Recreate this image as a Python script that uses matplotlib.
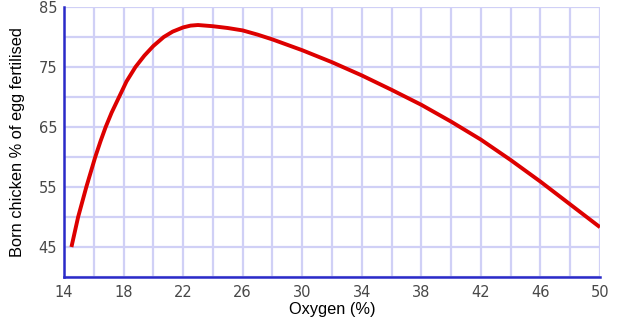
import numpy as np
import matplotlib.pyplot as plt

plt.rcParams['font.family'] = ['Liberation Sans', 'DejaVu Sans']

# hatch rate readings against oxygen level
oxygen = [14.5, 14.95, 15.5, 16.1, 16.45, 16.8, 17.2, 17.7, 18.2, 18.8, 19.4,
          20, 20.7, 21.3, 22, 22.5, 23, 24, 25, 26, 27, 28, 30, 32, 34, 36, 38,
          40, 42, 44, 46, 48, 50]
hatched = [45, 50, 55, 60, 62.6, 65, 67.4, 70, 72.6, 75, 76.9,
           78.5, 80, 80.9, 81.6, 81.9, 82, 81.8, 81.5, 81.1, 80.4, 79.6, 77.8,
           75.8, 73.6, 71.2, 68.7, 65.9, 62.9, 59.5, 55.9, 52.1, 48.3]

xticks = [14, 18, 22, 26, 30, 34, 38, 42, 46, 50]
yticks = [45, 55, 65, 75, 85]

fig = plt.figure(figsize=(6.17, 3.28), dpi=100)
ax = fig.add_axes([0.1037, 0.1555, 0.8687, 0.8231])

ax.plot(oxygen, hatched, color='#dd0000', lw=2.8, solid_joinstyle='round',
        solid_capstyle='butt', zorder=3)

ax.set_xlim(14, 50)
ax.set_ylim(40, 85)
ax.set_xticks(xticks)
ax.set_yticks(yticks)
ax.set_xticks(np.arange(14, 51, 2), minor=True)
ax.set_yticks(np.arange(40, 86, 5), minor=True)
ax.grid(which='both', color='#d0d0f6', lw=1.6)
ax.tick_params(which='both', length=0)
for lbl in ax.get_xticklabels() + ax.get_yticklabels():
    lbl.set_family('DejaVu Sans')
ax.tick_params(axis='x', pad=6, labelsize=10.5, labelcolor='#484848')
ax.tick_params(axis='y', pad=5, labelsize=10.5, labelcolor='#484848')

for side in ['top', 'right']:
    ax.spines[side].set_visible(False)
for side in ['left', 'bottom']:
    ax.spines[side].set_color('#2a2ac8')
    ax.spines[side].set_linewidth(1.8)
    ax.spines[side].set_zorder(4)

ax.set_xlabel('Oxygen (%)', fontsize=11.8, labelpad=1)
ax.set_ylabel('Born chicken % of egg fertilised', fontsize=11.8, labelpad=10)

fig.savefig('out.png', dpi=100)
